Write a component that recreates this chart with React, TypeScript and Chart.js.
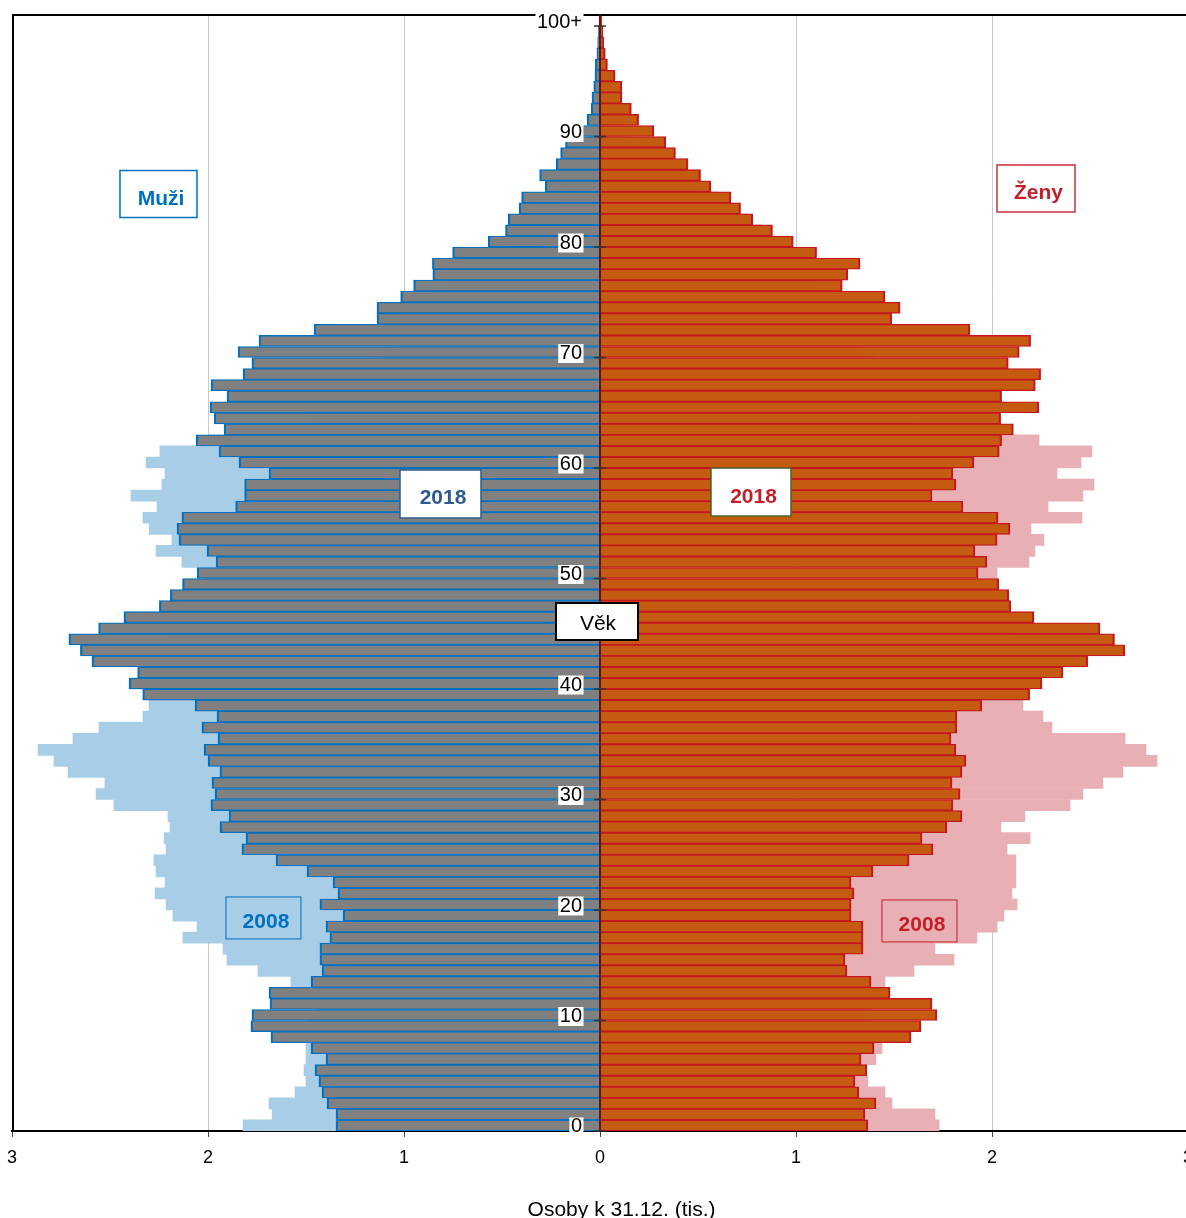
import React, { useEffect, useRef } from 'react';
import { Chart, registerables } from 'chart.js';

Chart.register(...registerables);

// Age categories 0 .. 100+
const ages: string[] = Array.from({ length: 101 }, (_, i) => (i === 100 ? '100+' : String(i)));

// thousands of persons, index = age
const men2018: number[] = [
  1.347, 1.347, 1.393, 1.418, 1.434, 1.454, 1.398, 1.474, 1.679, 1.781,
  1.776, 1.684, 1.689, 1.474, 1.418, 1.429, 1.429, 1.378, 1.398, 1.311,
  1.429, 1.337, 1.362, 1.495, 1.653, 1.827, 1.806, 1.939, 1.893, 1.985,
  1.964, 1.980, 1.939, 2.000, 2.020, 1.949, 2.031, 1.954, 2.066, 2.333,
  2.403, 2.359, 2.592, 2.651, 2.710, 2.558, 2.429, 2.248, 2.192, 2.130,
  2.056, 1.959, 2.005, 2.148, 2.158, 2.133, 1.859, 1.813, 1.813, 1.689,
  1.842, 1.944, 2.061, 1.918, 1.969, 1.990, 1.903, 1.985, 1.821, 1.776,
  1.847, 1.740, 1.459, 1.138, 1.138, 1.017, 0.951, 0.853, 0.855, 0.752,
  0.570, 0.482, 0.469, 0.413, 0.400, 0.279, 0.308, 0.224, 0.201, 0.176,
  0.093, 0.066, 0.045, 0.041, 0.032, 0.026, 0.024, 0.016, 0.012, 0.008,
  0.005,
];

const women2018: number[] = [
  1.367, 1.352, 1.408, 1.321, 1.301, 1.362, 1.332, 1.398, 1.587, 1.638,
  1.719, 1.694, 1.480, 1.383, 1.260, 1.250, 1.342, 1.342, 1.342, 1.281,
  1.281, 1.296, 1.281, 1.393, 1.577, 1.699, 1.643, 1.770, 1.847, 1.801,
  1.837, 1.796, 1.847, 1.867, 1.816, 1.791, 1.821, 1.821, 1.948, 2.192,
  2.255, 2.362, 2.488, 2.677, 2.625, 2.551, 2.214, 2.096, 2.085, 2.034,
  1.929, 1.974, 1.913, 2.026, 2.092, 2.031, 1.852, 1.694, 1.816, 1.801,
  1.908, 2.037, 2.049, 2.109, 2.044, 2.238, 2.049, 2.221, 2.248, 2.083,
  2.139, 2.197, 1.888, 1.488, 1.531, 1.454, 1.236, 1.264, 1.327, 1.105,
  0.986, 0.880, 0.779, 0.717, 0.668, 0.566, 0.513, 0.449, 0.385, 0.335,
  0.275, 0.197, 0.160, 0.112, 0.112, 0.077, 0.038, 0.027, 0.019, 0.015,
  0.010,
];

const men2008: number[] = [
  1.821, 1.673, 1.689, 1.556, 1.500, 1.510, 1.500, 1.500, 1.500, 1.480,
  1.460, 1.440, 1.450, 1.577, 1.745, 1.903, 1.923, 2.128, 2.056, 2.179,
  2.214, 2.270, 2.219, 2.265, 2.276, 2.214, 2.224, 2.194, 2.204, 2.480,
  2.571, 2.526, 2.714, 2.786, 2.867, 2.689, 2.556, 2.332, 2.301, 2.200,
  2.380, 2.300, 2.330, 2.300, 2.250, 2.200, 2.150, 2.100, 2.050, 2.000,
  2.020, 2.133, 2.265, 2.184, 2.300, 2.332, 2.260, 2.393, 2.235, 2.219,
  2.316, 2.245, 2.000, 1.400, 1.450, 1.500, 1.350, 1.150, 1.100, 1.150,
  1.100, 1.020, 0.970, 0.920, 0.880, 0.820, 0.760, 0.700, 0.640, 0.570,
  0.500, 0.430, 0.370, 0.310, 0.250, 0.190, 0.140, 0.110, 0.080, 0.055,
  0.040, 0.030, 0.020, 0.015, 0.010, 0.007, 0.005, 0.003, 0.002, 0.001,
  0.001,
];

const women2008: number[] = [
  1.730, 1.709, 1.490, 1.454, 1.367, 1.350, 1.408, 1.439, 1.400, 1.380,
  1.360, 1.380, 1.400, 1.454, 1.602, 1.806, 1.709, 1.923, 2.026, 2.061,
  2.128, 2.102, 2.122, 2.122, 2.122, 2.077, 2.194, 2.046, 2.168, 2.398,
  2.464, 2.566, 2.668, 2.842, 2.786, 2.679, 2.306, 2.260, 2.158, 2.150,
  2.200, 2.200, 2.200, 2.150, 2.150, 2.100, 2.050, 2.020, 2.000, 1.980,
  2.026, 2.189, 2.219, 2.265, 2.199, 2.459, 2.286, 2.464, 2.520, 2.332,
  2.454, 2.510, 2.240, 1.550, 1.620, 1.700, 1.550, 1.350, 1.300, 1.400,
  1.350, 1.300, 1.250, 1.220, 1.200, 1.150, 1.100, 1.050, 1.000, 0.950,
  0.900, 0.820, 0.750, 0.680, 0.600, 0.500, 0.400, 0.320, 0.250, 0.170,
  0.120, 0.090, 0.060, 0.050, 0.030, 0.020, 0.015, 0.010, 0.007, 0.005,
  0.005,
];

// Y-axis labelled ages
const yTickAges: number[] = [0, 10, 20, 30, 40, 50, 60, 70, 80, 90, 100];
const yTickLabels: string[] = ['0', '10', '20', '30', '40', '50', '60', '70', '80', '90', '100+'];

const xTitle = 'Osoby k 31.12. (tis.)';

// Annotation boxes (centre in data units: value, age)
type Box = { text: string; x: number; age: number; w: number; h: number; color: string; border: string; fill: boolean; bold: boolean; lw: number };
const boxes: Box[] = [
  { text: 'Muži', x: -2.2526, age: 84.3, w: 77, h: 47, color: '#0070C0', border: '#0070C0', fill: true, bold: true, lw: 1.5 },
  { text: 'Ženy', x: 2.2245, age: 84.8, w: 78, h: 47, color: '#C41E2A', border: '#C8303A', fill: true, bold: true, lw: 1.5 },
  { text: '2018', x: -0.8138, age: 57.15, w: 81, h: 48, color: '#2B5C8C', border: '#2E5F8C', fill: true, bold: true, lw: 1.5 },
  { text: '2018', x: 0.7704, age: 57.33, w: 80, h: 48, color: '#C41E2A', border: '#4F6228', fill: true, bold: true, lw: 1.5 },
  { text: '2008', x: -1.717, age: 18.78, w: 75, h: 42, color: '#0070C0', border: '#0070C0', fill: false, bold: true, lw: 1 },
  { text: '2008', x: 1.630, age: 18.51, w: 75, h: 42, color: '#C41E2A', border: '#C41E2A', fill: false, bold: true, lw: 1 },
  { text: 'Věk', x: -0.0153, age: 45.61, w: 82, h: 37, color: '#000000', border: '#000000', fill: true, bold: false, lw: 2 },
];

const FONT = '"Liberation Sans", Arial, Helvetica, sans-serif';

const overlayPlugin = {
  id: 'pyramidOverlay',
  afterDatasetsDraw(chart: any) {
    const { ctx, chartArea: ca, scales } = chart;
    const xs = scales.x;
    const ys = scales.y;
    const x0 = xs.getPixelForValue(0);
    ctx.save();

    // frame (top + left)
    ctx.strokeStyle = '#000';
    ctx.lineWidth = 2;
    ctx.beginPath();
    ctx.moveTo(ca.left + 1, ca.bottom);
    ctx.lineTo(ca.left + 1, ca.top);
    ctx.lineTo(ca.right + 20, ca.top);
    ctx.stroke();

    // centre line
    ctx.strokeStyle = '#5A1A1A';
    ctx.lineWidth = 2;
    ctx.beginPath();
    ctx.moveTo(x0, ca.top);
    ctx.lineTo(x0, ca.bottom);
    ctx.stroke();

    // age ticks + labels
    const half = Math.abs(ys.getPixelForValue(0) - ys.getPixelForValue(1)) / 2;
    ctx.font = '20px ' + FONT;
    yTickAges.forEach((age, i) => {
      const cy = ys.getPixelForValue(age);
      const ty = cy + half;
      ctx.strokeStyle = '#333';
      ctx.lineWidth = 1.5;
      ctx.beginPath();
      ctx.moveTo(x0 - 6, ty);
      ctx.lineTo(x0 + 6, ty);
      ctx.stroke();
      const label = yTickLabels[i];
      const w = ctx.measureText(label).width;
      const rx = x0 - 18;
      const my = cy + 1.5;
      ctx.fillStyle = '#fff';
      ctx.fillRect(rx - w - 1.5, my - 9.5, w + 3, 19);
      ctx.fillStyle = '#000';
      ctx.textAlign = 'right';
      ctx.textBaseline = 'middle';
      ctx.fillText(label, rx, my);
    });

    // annotation boxes
    boxes.forEach((b) => {
      const cx = xs.getPixelForValue(b.x);
      const cy = ys.getPixelForValue(b.age);
      const left = cx - b.w / 2;
      const top = cy - b.h / 2;
      if (b.fill) {
        ctx.fillStyle = '#fff';
        ctx.fillRect(left, top, b.w, b.h);
      }
      ctx.strokeStyle = b.border;
      ctx.lineWidth = b.lw;
      ctx.strokeRect(left, top, b.w, b.h);
      ctx.font = (b.bold ? 'bold ' : '') + '21px ' + FONT;
      ctx.fillStyle = b.color;
      ctx.textAlign = 'center';
      ctx.textBaseline = 'alphabetic';
      const dx = b.bold ? 2.5 : 1;
      const dy = b.bold ? 10.5 : 8.5;
      ctx.fillText(b.text, cx + dx, cy + dy);
    });

    // x-axis title
    ctx.font = '21px ' + FONT;
    ctx.fillStyle = '#000';
    ctx.textAlign = 'center';
    ctx.textBaseline = 'alphabetic';
    ctx.fillText(xTitle, xs.getPixelForValue(0.11), chart.height - 2.5);

    ctx.restore();
  },
};

export default function App() {
  const canvasRef = useRef<HTMLCanvasElement | null>(null);

  useEffect(() => {
    if (!canvasRef.current) return;
    Chart.defaults.font.family = FONT;
    const barBorder = { top: 1.3, bottom: 1.3, left: 2.2, right: 2.2 } as any;
    const chart = new Chart(canvasRef.current, {
      type: 'bar',
      data: {
        labels: ages,
        datasets: [
          {
            label: 'Muži 2018',
            data: men2018.map((v) => -v),
            backgroundColor: '#808080',
            borderColor: '#0070C0',
            borderWidth: barBorder,
            borderSkipped: 'start',
            grouped: false,
            order: 0,
            categoryPercentage: 1,
            barPercentage: 1,
          },
          {
            label: 'Ženy 2018',
            data: women2018,
            backgroundColor: '#C55A11',
            borderColor: '#C4171F',
            borderWidth: barBorder,
            borderSkipped: 'start',
            grouped: false,
            order: 0,
            categoryPercentage: 1,
            barPercentage: 1,
          },
          {
            label: 'Muži 2008',
            data: men2008.map((v) => -v),
            backgroundColor: '#A7CDE7',
            borderWidth: 0,
            grouped: false,
            order: 1,
            categoryPercentage: 1,
            barPercentage: 1,
          },
          {
            label: 'Ženy 2008',
            data: women2008,
            backgroundColor: '#E8B0B4',
            borderWidth: 0,
            grouped: false,
            order: 1,
            categoryPercentage: 1,
            barPercentage: 1,
          },
        ] as any,
      },
      options: {
        indexAxis: 'y',
        responsive: false,
        animation: false,
        layout: { padding: { left: 12, right: 12, top: 15, bottom: 47 } },
        plugins: {
          legend: { display: false },
          tooltip: { enabled: false },
          title: { display: false },
        },
        scales: {
          x: {
            type: 'linear',
            min: -3,
            max: 3,
            ticks: {
              stepSize: 1,
              padding: 10,
              color: '#000',
              font: { size: 18, family: FONT },
              callback: (v: any) => String(Math.abs(Number(v))),
            },
            grid: {
              color: (c: any) => {
                const v = c.tick ? c.tick.value : 0;
                return v === 0 || Math.abs(v) === 3 ? 'rgba(0,0,0,0)' : '#C8C8C8';
              },
              lineWidth: 1,
              drawTicks: true,
              tickLength: 6,
              tickColor: '#444',
            },
            border: { display: true, color: '#000', width: 2 },
            afterFit: (scale: any) => {
              scale.height = 40;
              scale.paddingLeft = 0;
              scale.paddingRight = 0;
            },
          },
          y: {
            type: 'category',
            reverse: true,
            display: false,
            grid: { display: false },
          },
        },
      } as any,
      plugins: [overlayPlugin],
    });
    return () => chart.destroy();
  }, []);

  return (
    <div
      style={{
        position: 'absolute',
        left: 0,
        top: 0,
        width: 1186,
        height: 1218,
        overflow: 'hidden',
        background: '#fff',
      }}
    >
      <canvas ref={canvasRef} width={1200} height={1218} style={{ display: 'block' }} />
    </div>
  );
}
